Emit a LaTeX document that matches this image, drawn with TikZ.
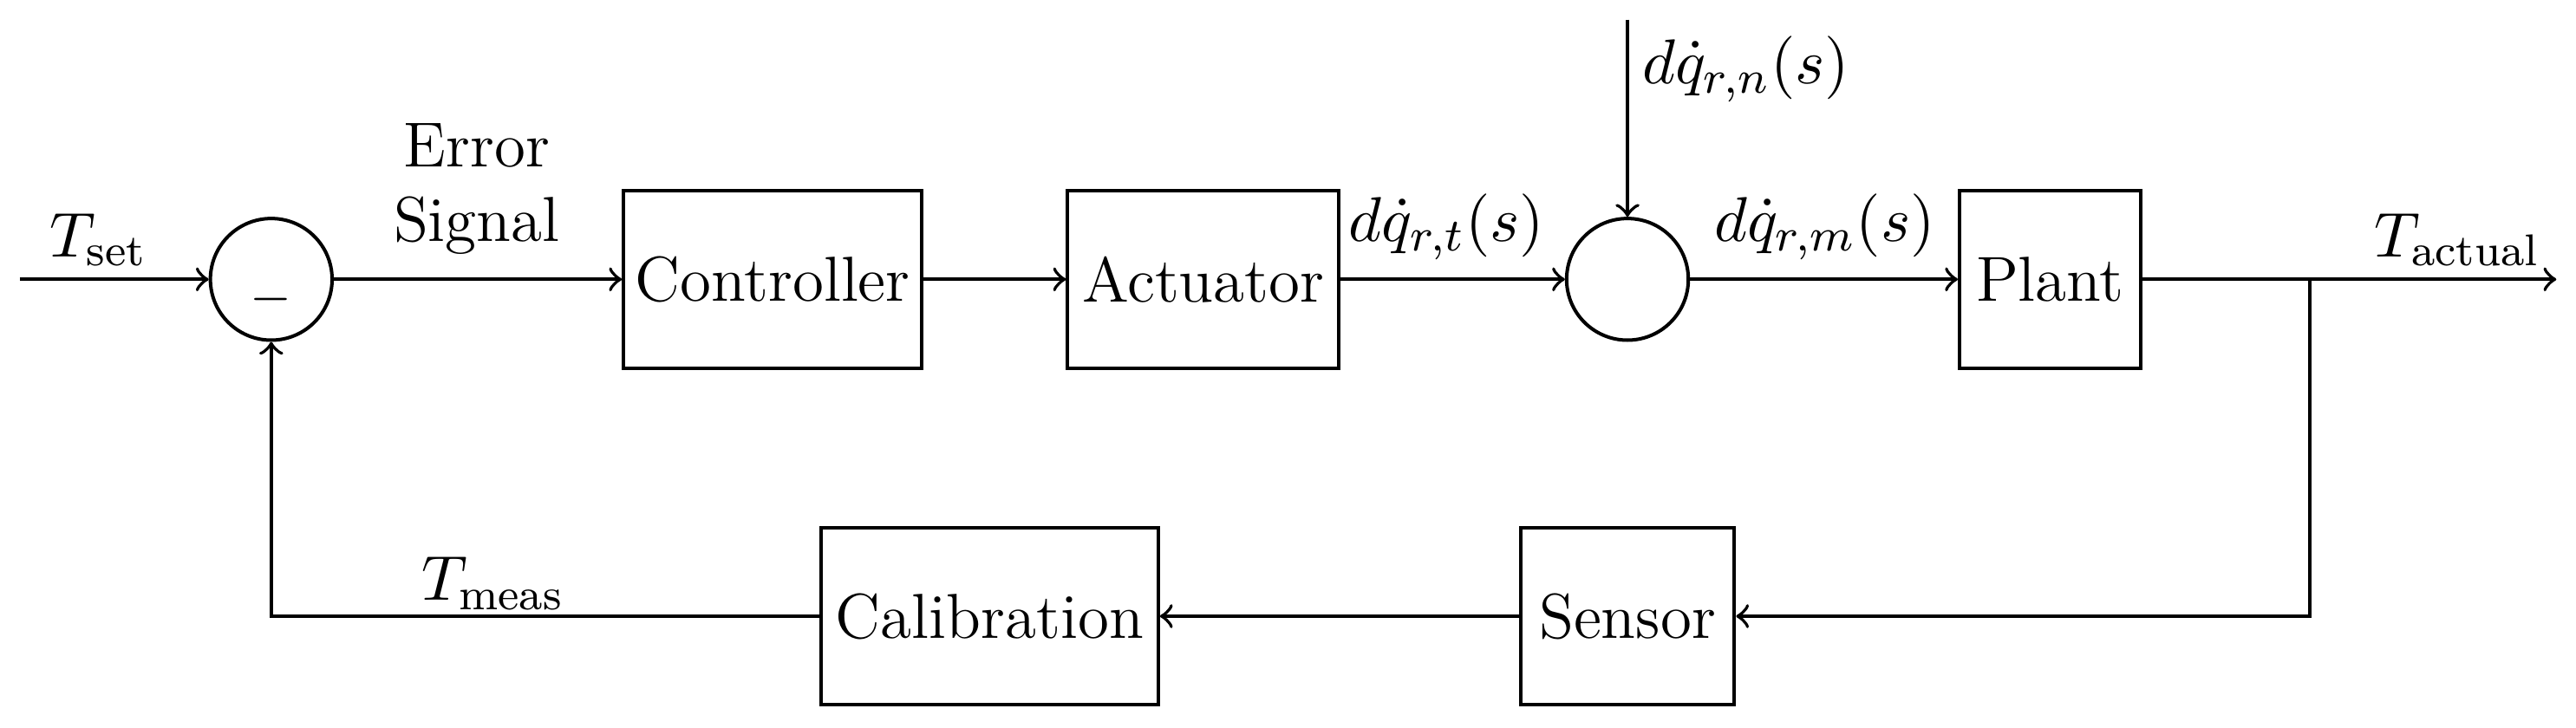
\documentclass[tikz,border=0pt]{standalone}
\usepackage{amsmath}
\begin{document}
\begin{tikzpicture}[x=0.01cm,y=-0.01cm,
  blk/.style={draw,semithick,minimum height=1.08cm,inner sep=2pt,font=\fontsize{11}{13}\selectfont},
  sum/.style={draw,semithick,circle,minimum size=0.74cm,inner sep=0pt},
  con/.style={semithick,->},
  lbl/.style={font=\fontsize{11}{13}\selectfont,inner sep=1pt}]
\useasboundingbox (0,0) rectangle (1567,443);
\coordinate (in) at (12,170);
\node[sum] (s1) at (165,170) {};
\node[font=\small] at (165,182) {$-$};
\node[blk,minimum width=1.8cm] (ctrl) at (470,170) {Controller};
\node[blk,minimum width=1.65cm] (act) at (732,170) {Actuator};
\node[sum] (s2) at (990,170) {};
\node[blk,minimum width=1.1cm] (plant) at (1247,170) {Plant};
\coordinate (out) at (1555,170);
\coordinate (br) at (1405,170);
\coordinate (dtop) at (990,12);
\node[blk,minimum width=1.3cm] (sens) at (990,375) {Sensor};
\node[blk,minimum width=2.05cm] (cal) at (602,375) {Calibration};
\draw[con] (in) -- (s1);
\draw[con] (s1) -- (ctrl);
\draw[con] (ctrl) -- (act);
\draw[con] (act) -- (s2);
\draw[con] (s2) -- (plant);
\draw[con] (plant) -- (out);
\draw[con] (dtop) -- (s2);
\draw[con] (br) |- (sens);
\draw[con] (sens) -- (cal);
\draw[con] (cal) -| (s1);
\node[lbl] at (60,146) {$T_{\text{set}}$};
\node[lbl,align=center] at (290,115) {Error\\Signal};
\node[lbl] at (880,138) {$d\dot q_{r,t}(s)$};
\node[lbl] at (1062,42) {$d\dot q_{r,n}(s)$};
\node[lbl] at (1110,138) {$d\dot q_{r,m}(s)$};
\node[lbl] at (1495,146) {$T_{\text{actual}}$};
\node[lbl] at (300,355) {$T_{\text{meas}}$};
\end{tikzpicture}
\end{document}
